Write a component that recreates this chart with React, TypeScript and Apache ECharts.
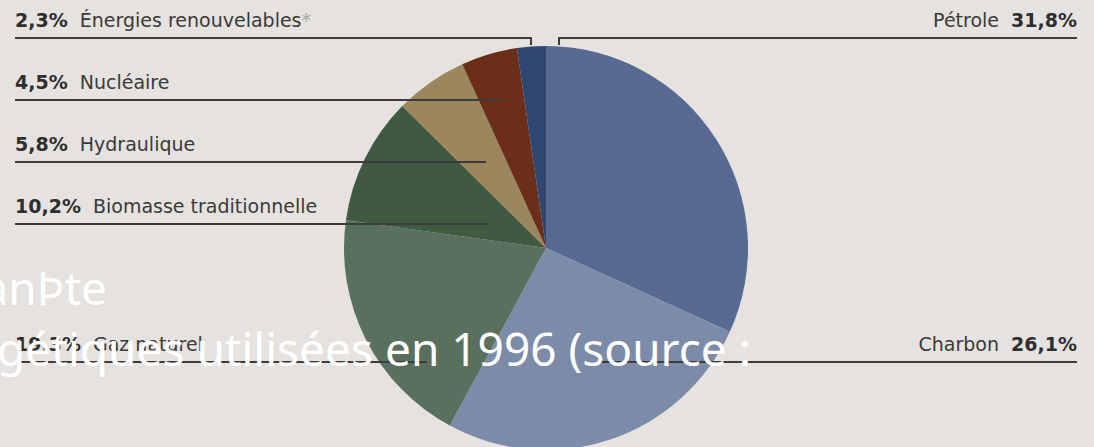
import React, { useEffect, useRef } from 'react';
import * as echarts from 'echarts';

// ---- data ----
const categories = ['Pétrole', 'Charbon', 'Gaz naturel', 'Biomasse traditionnelle', 'Hydraulique', 'Nucléaire', 'Énergies renouvelables'];
const shares = [31.8, 26.1, 19.3, 10.2, 5.8, 4.5, 2.3];
const footnoteMark = [false, false, false, false, false, false, true];
const sliceColors = ['#566a92', '#7c8ca8', '#5a705e', '#405a42', '#9b865d', '#6b2e19', '#2e4670'];
const titleLines = ['anÞte', 'gétiques utilisées en 1996 (source :'];

// ---- label layout (positions only) ----
const labelSide = ['right', 'right', 'left', 'left', 'left', 'left', 'left'];
const lineY = [38, 362, 362, 224, 162, 100, 38];
const lineEndX = [559, 598, 427, 488, 486, 504, 531];
const hookY = [45, 0, 0, 0, 0, 0, 45];

const W = 1094;
const H = 447;

const fmtPct = (v: number) => v.toFixed(1).replace('.', ',') + '%';

export default function App() {
  const ref = useRef<HTMLDivElement>(null);
  useEffect(() => {
    if (!ref.current) return;
    const chart = echarts.init(ref.current, null, { renderer: 'svg' });
    const font = '"DejaVu Sans", Verdana, sans-serif';
    const pieData = (transparent: boolean) =>
      categories.map((name, i) => ({
        name,
        value: shares[i],
        itemStyle: { color: transparent ? 'rgba(0,0,0,0)' : sliceColors[i] },
      }));
    chart.setOption({
      animation: false,
      backgroundColor: '#e6e2df',
      series: [
        {
          type: 'pie',
          z: 2,
          center: [546, 248],
          radius: 202,
          startAngle: 90,
          clockwise: true,
          silent: true,
          itemStyle: { borderWidth: 0 },
          data: pieData(false),
          label: { show: false },
          labelLine: { show: false },
        },
        {
          type: 'pie',
          z: 5,
          center: [546, 248],
          radius: 202,
          startAngle: 90,
          clockwise: true,
          avoidLabelOverlap: false,
          silent: true,
          itemStyle: { borderWidth: 0 },
          data: pieData(true),
          label: {
            show: true,
            position: 'outside',
            fontFamily: font,
            fontSize: 19,
            color: '#333',
            formatter: (p: any) => {
              const i = p.dataIndex;
              const pct = fmtPct(shares[i]);
              const mark = footnoteMark[i] ? '{s|*}' : '';
              return labelSide[i] === 'left'
                ? `{p|${pct}}  {n|${categories[i]}}${mark}`
                : `{n|${categories[i]}}  {p|${pct}}`;
            },
            rich: {
              p: { fontFamily: font, fontSize: 19, fontWeight: 'bold', color: '#2e2e2e' },
              n: { fontFamily: font, fontSize: 19, color: '#3a3a3a' },
              s: { fontFamily: font, fontSize: 19, color: '#a8a8a8' },
            },
          },
          labelLine: {
            show: true,
            smooth: false,
            length: 10,
            length2: 10,
            lineStyle: { color: '#3c3c3c', width: 2 },
          },
          labelLayout: (params: any) => {
            const i = params.dataIndex;
            const y = lineY[i];
            const ex = lineEndX[i];
            const hy = hookY[i] || y;
            if (labelSide[i] === 'left') {
              return {
                x: 15,
                y: y - 18,
                align: 'left',
                verticalAlign: 'middle',
                labelLinePoints: [[15, y], [ex, y], [ex, hy]],
              };
            }
            return {
              x: 1077,
              y: y - 18,
              align: 'right',
              verticalAlign: 'middle',
              labelLinePoints: [[1077, y], [ex, y], [ex, hy]],
            };
          },
        },
      ],
      graphic: [
        {
          type: 'text',
          x: 107,
          y: 287,
          z: 100,
          silent: true,
          style: {
            text: titleLines[0],
            fill: '#ffffff',
            font: '46px "Noto Sans", sans-serif',
            align: 'right',
            verticalAlign: 'middle',
          },
        },
        {
          type: 'text',
          x: 751,
          y: 348,
          z: 100,
          silent: true,
          style: {
            text: titleLines[1],
            fill: '#ffffff',
            font: '46px "Noto Sans", sans-serif',
            align: 'right',
            verticalAlign: 'middle',
          },
        },
      ],
    });
    return () => chart.dispose();
  }, []);
  return (
    <div
      ref={ref}
      style={{ position: 'fixed', left: 0, top: 0, width: W, height: H }}
    />
  );
}
